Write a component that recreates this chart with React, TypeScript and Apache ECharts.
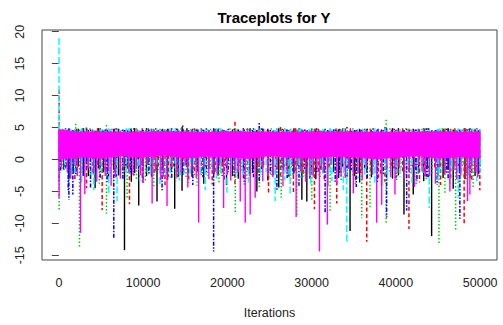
import React, { useEffect, useRef } from "react";
import * as echarts from "echarts";

// Trace segments per chain: [iteration, low value, high value] — large excursions
const blackChain: number[][] = [
  [1200, -3.0, 4.6], [2900, -2.4, 4.9], [4300, -4.5, 4.5], [5900, -2.8, 4.8], [7790, -14.2, 4.6], [8600, -3.5, 4.7],
  [9480, -7.2, 4.5], [10400, -2.6, 4.9], [11650, -6.6, 4.6], [12900, -3.2, 4.8], [13750, -7.7, 4.5], [14620, -4.9, 5.1],
  [15800, -2.7, 4.7], [17200, -3.8, 4.6], [18900, -2.5, 4.8], [19900, -4.0, 4.5], [21300, -3.0, 4.7], [22700, -2.4, 4.9],
  [23500, -5.0, 4.6], [24800, -3.3, 4.8], [26100, -4.4, 4.9], [27300, -2.7, 4.6], [28840, -6.3, 4.7], [29430, -6.6, 4.5],
  [30500, -3.1, 4.8], [31900, -4.2, 4.6], [33200, -2.9, 4.7], [34560, -11.2, 4.5], [35700, -3.6, 4.8], [37100, -2.8, 4.6],
  [38300, -4.1, 4.7], [39600, -3.0, 4.9], [40960, -8.6, 4.6], [42060, -5.5, 4.8], [43300, -3.4, 4.9], [44240, -12.0, 4.6],
  [45600, -2.9, 4.8], [46800, -4.6, 4.7], [48200, -3.1, 4.9], [49400, -2.6, 4.6],
];
const redChain: number[][] = [
  [30, -2.0, 10.9], [1900, -3.1, 4.7], [3280, -4.5, 5.0], [5140, -7.9, 4.6], [6600, -2.6, 4.8], [8380, -7.0, 4.5],
  [9900, -3.4, 4.9], [11300, -2.5, 4.6], [12600, -4.0, 4.7], [14100, -2.8, 4.8], [15400, -3.6, 4.6], [16900, -2.4, 4.9],
  [18200, -3.9, 4.5], [19400, -2.6, 4.7], [20900, -4.2, 5.9], [21900, -2.9, 4.8], [24880, -5.2, 4.6], [26300, -3.1, 5.1],
  [27840, -5.4, 4.7], [29000, -2.7, 4.5], [30330, -7.8, 4.8], [31500, -3.3, 4.6], [32980, -6.9, 4.7], [34000, -2.6, 4.9],
  [35200, -3.8, 4.5], [36540, -12.9, 4.7], [37900, -2.9, 4.8], [38700, -3.5, 5.1], [40300, -2.4, 4.6], [41550, -10.9, 4.8],
  [42800, -3.6, 4.7], [43900, -2.7, 4.9], [45300, -4.0, 4.6], [46500, -2.9, 4.8], [47400, -3.7, 4.7], [48100, -10.3, 4.9],
  [49000, -3.2, 4.6], [49960, -4.8, 4.7],
];
const greenChain: number[][] = [
  [30, -8.0, 5.0], [1300, -3.0, 4.8], [2000, -2.2, 5.6], [2450, -13.7, 4.7], [3700, -2.6, 4.9], [4800, -3.8, 4.6],
  [5650, -8.5, 5.4], [6900, -2.7, 4.8], [8100, -6.0, 4.7], [9200, -3.1, 4.9], [10270, -3.5, 4.6], [11260, -4.5, 4.8],
  [12500, -2.5, 4.7], [13900, -3.4, 4.9], [15100, -2.8, 4.6], [16400, -4.1, 4.8], [17700, -2.6, 4.7], [19000, -3.7, 4.9],
  [20940, -8.4, 4.6], [22300, -3.0, 4.8], [23800, -4.3, 4.7], [25200, -2.7, 4.9], [26390, -6.0, 4.6], [27500, -3.2, 4.8],
  [28240, -8.9, 4.7], [30020, -6.5, 4.9], [31000, -3.0, 4.6], [32190, -8.1, 4.8], [33500, -3.3, 4.7], [34900, -2.8, 4.9],
  [35950, -9.2, 4.6], [36930, -7.8, 4.8], [38840, -10.2, 6.2], [40100, -3.4, 4.7], [41200, -2.9, 4.9], [42400, -4.0, 4.6],
  [43600, -3.1, 4.8], [45110, -13.1, 4.7], [45820, -5.5, 4.9], [47090, -11.0, 4.6], [48400, -3.3, 4.8], [49170, -4.5, 4.7],
];
const blueChain: number[][] = [
  [30, -3.5, 4.8], [1110, -4.8, 4.7], [1190, -6.3, 4.9], [1660, -5.5, 4.6], [2900, -2.6, 4.8], [3760, -4.5, 4.7],
  [4900, -2.9, 4.9], [5730, -3.5, 4.6], [6520, -12.3, 4.8], [7600, -3.0, 4.7], [8900, -2.5, 4.9], [10000, -3.8, 4.6],
  [11000, -2.7, 4.8], [12250, -4.8, 4.7], [13400, -3.1, 4.9], [14700, -2.6, 5.3], [15900, -4.0, 4.8], [17100, -2.8, 4.7],
  [18370, -14.4, 4.9], [19600, -3.3, 4.6], [20800, -2.6, 4.8], [22000, -3.9, 4.7], [23100, -2.8, 4.9], [23780, -3.5, 5.7],
  [25880, -4.8, 4.8], [27100, -2.9, 4.7], [28500, -4.1, 4.9], [29800, -3.0, 4.6], [31600, -8.3, 4.8], [32800, -3.5, 4.7],
  [34200, -2.7, 5.1], [35300, -4.3, 4.6], [36600, -3.0, 4.8], [37800, -3.6, 4.7], [38900, -9.1, 4.9], [40000, -2.9, 4.6],
  [41280, -8.0, 4.8], [42500, -3.4, 4.7], [43800, -2.8, 4.9], [44900, -3.9, 4.6], [46200, -3.2, 4.8], [47590, -9.3, 4.7],
  [48800, -3.0, 4.9], [49800, -2.6, 4.6],
];
const cyanChain: number[][] = [
  [20, -2.5, 19.0], [1500, -2.7, 4.7], [2700, -3.6, 4.9], [4150, -4.8, 4.6], [5920, -5.4, 4.8], [6910, -6.5, 4.7],
  [8000, -2.8, 4.9], [9600, -3.4, 4.6], [10900, -2.6, 4.8], [12000, -3.9, 4.7], [13200, -2.9, 4.9], [14300, -3.3, 4.6],
  [15600, -2.5, 4.8], [17380, -4.8, 4.7], [18700, -3.0, 4.9], [19950, -5.2, 4.6], [21100, -2.8, 4.8], [22500, -3.6, 4.7],
  [23900, -2.7, 4.9], [25670, -6.5, 4.6], [26800, -3.2, 4.8], [27450, -5.4, 4.7], [28700, -2.9, 4.9], [29900, -3.8, 4.6],
  [31300, -2.6, 4.8], [32400, -3.4, 4.7], [33770, -4.8, 4.9], [34170, -13.1, 4.6], [35500, -3.0, 4.8], [36300, -2.7, 4.7],
  [37500, -4.0, 4.9], [39000, -3.1, 4.6], [40500, -2.8, 4.8], [41900, -3.7, 4.7], [43200, -2.6, 4.9], [43960, -7.6, 4.6],
  [45000, -3.3, 4.8], [46400, -4.1, 4.7], [47400, -6.0, 4.9], [48600, -2.9, 4.6], [49600, -3.4, 4.8],
];
const magentaChain: number[][] = [
  [30, -6.0, 4.6], [1400, -3.0, 4.4], [2570, -11.5, 4.5], [3080, -5.4, 4.4], [4500, -3.5, 4.5], [5500, -2.6, 4.4],
  [6200, -4.1, 4.5], [7300, -3.0, 4.4], [8800, -2.4, 4.5], [10000, -3.7, 4.4], [11070, -6.9, 4.5], [12100, -3.2, 4.4],
  [12840, -7.3, 4.5], [14000, -2.8, 4.4], [15300, -4.4, 4.5], [16590, -9.9, 4.4], [17800, -3.1, 4.5], [18800, -2.5, 4.4],
  [19550, -7.6, 4.5], [20400, -3.3, 4.4], [21530, -6.6, 4.5], [22120, -9.9, 4.4], [22710, -8.6, 4.5], [23300, -6.0, 4.4],
  [24200, -3.4, 4.5], [25400, -2.8, 4.4], [26600, -4.2, 4.5], [28160, -9.0, 4.4], [29300, -3.5, 4.5], [30200, -2.7, 4.4],
  [30930, -14.4, 4.5], [31870, -10.2, 4.4], [33000, -3.9, 4.5], [34000, -2.9, 4.4], [34950, -5.3, 4.5], [36000, -3.2, 4.4],
  [37720, -9.9, 4.5], [38310, -7.1, 4.4], [39890, -5.5, 4.5], [41000, -3.0, 4.4], [42200, -4.3, 4.5], [43500, -2.6, 4.4],
  [44700, -3.8, 4.5], [46410, -5.0, 4.4], [47200, -3.1, 4.5], [48500, -6.5, 4.4], [48780, -5.5, 4.5], [49700, -2.8, 4.4],
];

// Smaller excursions that make up the dense mixed zone: [iteration, low, high]
const blackDense: number[][] = [
  [600, -1.6, 4.7], [1700, -2.2, 4.5], [2300, -1.1, 4.8], [3500, -2.6, 4.6], [4700, -1.4, 4.9], [5300, -2.0, 4.5],
  [6500, -1.2, 4.7], [7100, -2.5, 4.8], [8100, -1.5, 4.6], [9000, -2.1, 4.9], [9900, -1.0, 4.5], [11000, -2.4, 4.7],
  [12300, -1.3, 4.8], [13300, -1.9, 4.6], [14200, -2.7, 4.5], [15200, -1.2, 4.9], [16500, -2.0, 4.7], [17800, -1.5, 4.6],
  [18400, -2.3, 4.8], [19400, -1.1, 4.5], [20600, -2.6, 4.7], [21900, -1.4, 4.9], [23000, -2.1, 4.6], [24200, -1.3, 4.8],
  [25400, -2.5, 4.5], [26700, -1.7, 4.7], [27900, -2.2, 4.9], [28400, -1.0, 4.6], [30000, -2.4, 4.8], [31100, -1.6, 4.5],
  [32600, -2.0, 4.7], [33700, -1.2, 4.9], [35100, -2.6, 4.6], [36300, -1.5, 4.8], [37700, -2.1, 4.5], [38900, -1.3, 4.7],
  [40300, -2.5, 4.9], [41600, -1.8, 4.6], [42700, -2.2, 4.8], [43800, -1.1, 4.5], [45000, -2.4, 4.7], [46200, -1.6, 4.9],
  [47500, -2.0, 4.6], [48700, -1.4, 4.8], [49800, -2.3, 4.5],
];
const redDense: number[][] = [
  [900, -1.3, 4.6], [2100, -2.4, 4.8], [3000, -1.7, 4.5], [4000, -2.1, 4.7], [4600, -1.0, 4.9], [5800, -2.6, 4.6],
  [7000, -1.5, 4.8], [7800, -2.0, 4.5], [9300, -1.2, 4.7], [10600, -2.3, 4.9], [11800, -1.6, 4.6], [13000, -2.7, 4.8],
  [13600, -1.1, 4.5], [14800, -1.9, 4.7], [16100, -2.4, 4.9], [17400, -1.4, 4.6], [18600, -2.1, 4.8], [19800, -1.0, 4.5],
  [21200, -2.5, 4.7], [22400, -1.7, 4.9], [23600, -2.2, 4.6], [24300, -1.3, 4.8], [25700, -2.6, 4.5], [27000, -1.5, 4.7],
  [28100, -2.0, 4.9], [29500, -1.2, 4.6], [30800, -2.4, 4.8], [32100, -1.6, 4.5], [33400, -2.1, 4.7], [34600, -1.1, 4.9],
  [35800, -2.5, 4.6], [37000, -1.8, 4.8], [38200, -2.3, 4.5], [39500, -1.4, 4.7], [40800, -2.0, 4.9], [42000, -1.2, 4.6],
  [43400, -2.6, 4.8], [44600, -1.5, 4.5], [45800, -2.2, 4.7], [47000, -1.0, 4.9], [48300, -2.4, 4.6], [49400, -1.7, 4.8],
];
const greenDense: number[][] = [
  [400, -1.8, 4.8], [1600, -1.2, 4.6], [2800, -2.3, 4.9], [4200, -1.5, 4.5], [5200, -2.6, 4.7], [6300, -1.1, 4.8],
  [7500, -2.0, 4.6], [8600, -1.4, 4.9], [9700, -2.4, 4.5], [10900, -1.6, 4.7], [12000, -2.1, 4.8], [13200, -1.0, 4.6],
  [14500, -2.5, 4.9], [15700, -1.3, 4.5], [16900, -2.2, 4.7], [18000, -1.7, 4.8], [19300, -2.6, 4.6], [20300, -1.2, 4.9],
  [21700, -2.0, 4.5], [22800, -1.5, 4.7], [24000, -2.4, 4.8], [25500, -1.1, 4.6], [26800, -2.2, 4.9], [27600, -1.6, 4.5],
  [29100, -2.5, 4.7], [30400, -1.3, 4.8], [31500, -2.1, 4.6], [32900, -1.8, 4.9], [34200, -2.7, 4.5], [35400, -1.2, 4.7],
  [36600, -2.0, 4.8], [37900, -1.4, 4.6], [39300, -2.3, 4.9], [40600, -1.6, 4.5], [41800, -2.1, 4.7], [43100, -1.0, 4.8],
  [44300, -2.5, 4.6], [45500, -1.5, 4.9], [46700, -2.2, 4.5], [47900, -1.3, 4.7], [49000, -2.0, 4.8], [49900, -1.6, 4.6],
];
const blueDense: number[][] = [
  [200, -2.0, 4.7], [800, -1.4, 4.9], [2000, -2.5, 4.6], [3300, -1.2, 4.8], [4400, -2.2, 4.5], [5500, -1.6, 4.7],
  [6800, -2.7, 4.9], [7900, -1.3, 4.6], [8500, -2.0, 4.8], [9600, -1.1, 4.5], [10700, -2.4, 4.7], [11500, -1.7, 4.9],
  [12800, -2.1, 4.6], [14000, -1.4, 4.8], [15300, -2.6, 4.5], [16300, -1.2, 4.7], [17500, -2.3, 4.9], [18900, -1.5, 4.6],
  [20100, -2.0, 4.8], [21500, -1.0, 4.5], [22600, -2.5, 4.7], [24100, -1.6, 4.9], [25100, -2.2, 4.6], [26500, -1.3, 4.8],
  [27800, -2.6, 4.5], [29200, -1.5, 4.7], [30600, -2.1, 4.9], [31900, -1.2, 4.6], [33300, -2.4, 4.8], [34700, -1.7, 4.5],
  [36000, -2.0, 4.7], [37300, -1.1, 4.9], [38500, -2.5, 4.6], [39800, -1.4, 4.8], [41000, -2.2, 4.5], [42300, -1.6, 4.7],
  [43600, -2.7, 4.9], [44700, -1.3, 4.6], [46000, -2.1, 4.8], [47200, -1.5, 4.5], [48500, -2.4, 4.7], [49600, -1.2, 4.9],
];
const cyanDense: number[][] = [
  [700, -1.5, 4.8], [1900, -2.1, 4.6], [3100, -1.1, 4.9], [3900, -2.4, 4.5], [5000, -1.7, 4.7], [6100, -2.2, 4.8],
  [7300, -1.3, 4.6], [8300, -2.6, 4.9], [9400, -1.6, 4.5], [10500, -2.0, 4.7], [11600, -1.2, 4.8], [12700, -2.5, 4.6],
  [13800, -1.4, 4.9], [14900, -2.2, 4.5], [16000, -1.0, 4.7], [16800, -2.3, 4.8], [18200, -1.5, 4.6], [19200, -2.1, 4.9],
  [20500, -1.3, 4.5], [21800, -2.6, 4.7], [23300, -1.6, 4.8], [24600, -2.0, 4.6], [25900, -1.2, 4.9], [27200, -2.4, 4.5],
  [28500, -1.4, 4.7], [29700, -2.2, 4.8], [31000, -1.1, 4.6], [32200, -2.5, 4.9], [33500, -1.7, 4.5], [34900, -2.0, 4.7],
  [36100, -1.3, 4.8], [37400, -2.3, 4.6], [38700, -1.5, 4.9], [40000, -2.1, 4.5], [41400, -1.2, 4.7], [42600, -2.6, 4.8],
  [43900, -1.6, 4.6], [45200, -2.2, 4.9], [46600, -1.4, 4.5], [47800, -2.0, 4.7], [49100, -1.1, 4.8], [50000, -1.8, 4.6],
];
const magentaDense: number[][] = [
  [300, -1.2, 4.4], [1000, -2.0, 4.4], [1800, -0.8, 4.4], [2200, -2.6, 4.4], [3500, -1.4, 4.4], [4100, -2.2, 4.4],
  [4900, -0.9, 4.4], [5900, -1.8, 4.4], [6700, -2.8, 4.4], [7700, -1.1, 4.4], [8300, -2.0, 4.4], [9200, -1.5, 4.4],
  [9700, -2.5, 4.4], [10500, -0.8, 4.4], [11500, -1.9, 4.4], [12400, -2.7, 4.4], [13400, -1.2, 4.4], [14500, -2.2, 4.4],
  [15000, -0.9, 4.4], [15800, -1.6, 4.4], [16300, -2.9, 4.4], [17200, -1.3, 4.4], [18300, -2.1, 4.4], [19100, -1.0, 4.4],
  [20000, -2.4, 4.4], [20900, -1.5, 4.4], [21300, -2.0, 4.4], [23800, -1.1, 4.4], [24800, -2.6, 4.4], [25900, -1.4, 4.4],
  [27100, -2.3, 4.4], [27700, -0.9, 4.4], [28700, -1.8, 4.4], [29800, -2.5, 4.4], [30600, -1.2, 4.4], [31400, -2.0, 4.4],
  [32300, -0.8, 4.4], [33500, -2.7, 4.4], [34400, -1.5, 4.4], [35500, -2.2, 4.4], [36500, -1.0, 4.4], [37200, -2.4, 4.4],
  [38900, -1.6, 4.4], [39400, -2.8, 4.4], [40400, -1.3, 4.4], [41600, -2.1, 4.4], [42700, -0.9, 4.4], [43100, -1.9, 4.4],
  [44000, -2.6, 4.4], [45200, -1.2, 4.4], [45800, -2.3, 4.4], [46900, -1.7, 4.4], [47700, -2.5, 4.4], [49000, -1.1, 4.4],
  [49500, -2.0, 4.4],
];
// Dense body of the magenta chain (upper/lower envelope)
const bodyIter = [0, 2500, 5000, 7500, 10000, 12500, 15000, 17500, 20000, 22500, 25000, 27500, 30000, 32500, 35000, 37500, 40000, 42500, 45000, 47500, 50000];
const bodyTop = [4.6, 4.3, 4.35, 4.25, 4.3, 4.35, 4.3, 4.25, 4.35, 4.3, 4.3, 4.25, 4.3, 4.35, 4.3, 4.3, 4.25, 4.3, 4.35, 4.3, 4.3];
const bodyBottom = [0.0, 0.4, 0.2, 0.6, 0.3, 0.7, 0.2, 0.5, 0.4, 0.1, 0.6, 0.3, 0.2, 0.5, 0.4, 0.1, 0.3, 0.6, 0.2, 0.4, 0.3];

const xTicks = [0, 10000, 20000, 30000, 40000, 50000];
const yTicks = [-15, -10, -5, 0, 5, 10, 15, 20];

function segSeries(name: string, data: number[][], color: string, dash: number[] | null, width: number) {
  return {
    type: "custom",
    name,
    data,
    encode: { x: 0, y: [1, 2] },
    renderItem: (_p: any, api: any) => {
      const x = api.value(0);
      const a = api.coord([x, api.value(2)]);
      const b = api.coord([x, api.value(1)]);
      return {
        type: "line",
        shape: { x1: a[0], y1: a[1], x2: b[0], y2: b[1] },
        style: { stroke: color, lineWidth: width, lineDash: dash || undefined, fill: null },
      };
    },
  };
}

export default function App() {
  const ref = useRef<HTMLDivElement>(null);
  useEffect(() => {
    if (!ref.current) return;
    const chart = echarts.init(ref.current, null, { renderer: "svg" });
    const bodyData = bodyIter.map((it, i) => [it, bodyBottom[i], bodyTop[i]]);
    const font = "Liberation Sans";
    const option: any = {
      animation: false,
      backgroundColor: "#fff",
      title: {
        text: "Traceplots for Y",
        left: 269,
        top: 5,
        textAlign: "center",
        textStyle: { fontFamily: font, fontSize: 15, fontWeight: "bold", color: "#000" },
      },
      grid: { left: 42, right: 6, top: 30, bottom: 65, show: true, borderColor: "#444", borderWidth: 1, backgroundColor: "transparent" },
      xAxis: {
        type: "value",
        min: -2000,
        max: 52000,
        name: "Iterations",
        nameLocation: "middle",
        nameGap: 46,
        nameTextStyle: { fontFamily: font, fontSize: 12.5, color: "#222" },
        axisLine: { show: false },
        splitLine: { show: false },
        axisTick: { show: true, inside: false, length: 7, customValues: xTicks, lineStyle: { color: "#444" } },
        axisLabel: { customValues: xTicks, margin: 16, fontFamily: font, fontSize: 12.5, color: "#222", formatter: (v: number) => String(v) },
      },
      yAxis: {
        type: "value",
        min: -15.74,
        max: 20.27,
        axisLine: { show: false },
        splitLine: { show: false },
        axisTick: { show: true, inside: false, length: 7, customValues: yTicks, lineStyle: { color: "#444" } },
        axisLabel: { customValues: yTicks, rotate: 90, margin: 16, fontFamily: font, fontSize: 12.5, color: "#222", formatter: (v: number) => String(v) },
      },
      series: [
        segSeries("black", blackChain.concat(blackDense), "#000000", null, 1.4),
        segSeries("red", redChain.concat(redDense), "#FF0000", [4, 2.5], 1.5),
        segSeries("green", greenChain.concat(greenDense), "#00CD00", [1.5, 2], 1.5),
        segSeries("blue", blueChain.concat(blueDense), "#0000FF", [1.5, 1.5, 4, 1.5], 1.5),
        segSeries("cyan", cyanChain.concat(cyanDense), "#00FFFF", [7, 2.5], 1.5),
        {
          type: "custom",
          name: "magentaBody",
          data: bodyData,
          encode: { x: 0, y: [1, 2] },
          renderItem: (p: any, api: any) => {
            const i = p.dataIndex;
            if (i >= bodyData.length - 1) return null;
            const t0 = api.coord([bodyData[i][0], bodyData[i][2]]);
            const t1 = api.coord([bodyData[i + 1][0], bodyData[i + 1][2]]);
            const b1 = api.coord([bodyData[i + 1][0], bodyData[i + 1][1]]);
            const b0 = api.coord([bodyData[i][0], bodyData[i][1]]);
            return {
              type: "polygon",
              shape: { points: [t0, t1, b1, b0] },
              style: { fill: "#FF00FF", stroke: "#FF00FF", lineWidth: 0.8 },
            };
          },
        },
        segSeries("magenta", magentaChain.concat(magentaDense), "#FF00FF", null, 1.4),
      ],
    };
    chart.setOption(option);
    return () => chart.dispose();
  }, []);
  return <div ref={ref} style={{ position: "fixed", left: 0, top: 0, width: 503, height: 325 }} />;
}
